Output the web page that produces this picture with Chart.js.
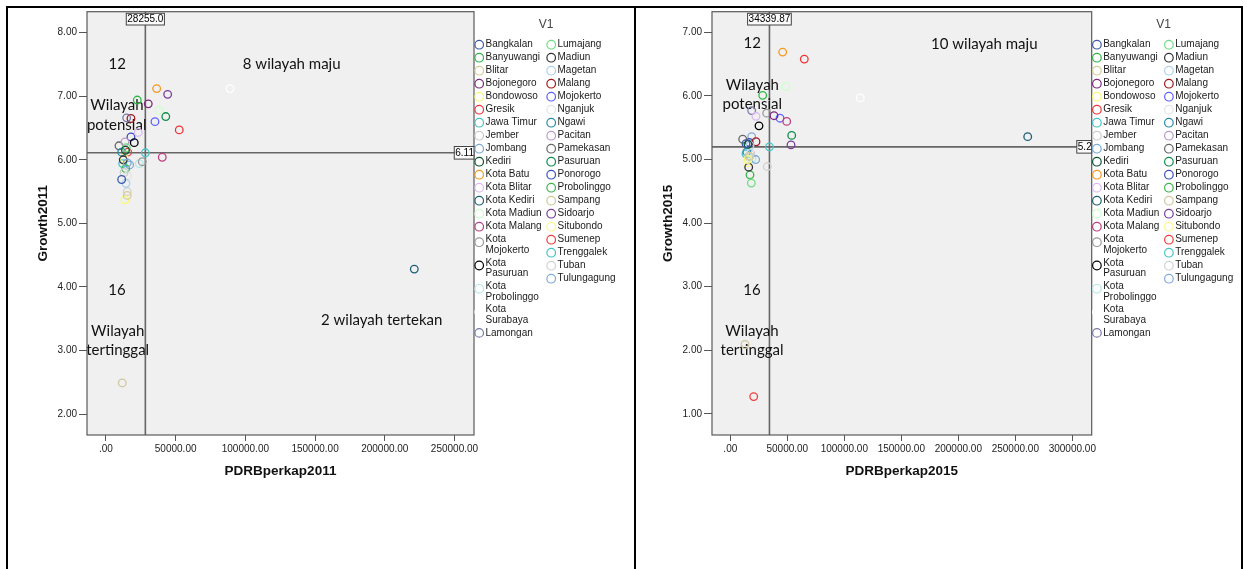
<!DOCTYPE html>
<html>
<head>
<meta charset="utf-8">
<title>PDRB per kapita vs Growth</title>
<script src="https://cdn.jsdelivr.net/npm/chart.js@4.4.1/dist/chart.umd.min.js"></script>
<style>
  html, body { margin: 0; padding: 0; background: #fff; }
  body { width: 1247px; height: 569px; position: relative; overflow: hidden; }
  canvas { position: absolute; top: 0; }
  #chart2011 { left: 0; }
  #chart2015 { left: 636px; }
  .rule { position: absolute; background: #000; z-index: 2; }
</style>
</head>
<body>
<div class="rule" style="left:6px;top:6px;width:1237px;height:2px"></div>
<div class="rule" style="left:6px;top:6px;width:2px;height:563px"></div>
<div class="rule" style="left:634px;top:6px;width:2px;height:563px"></div>
<div class="rule" style="left:1241px;top:6px;width:2px;height:563px"></div>
<canvas id="chart2011" width="633" height="569" style="width:633px;height:569px"></canvas>
<canvas id="chart2015" width="611" height="569" style="width:611px;height:569px"></canvas>
<script>
// regions (V1)
const regions = [
  "Bangkalan", "Banyuwangi", "Blitar", "Bojonegoro", "Bondowoso", "Gresik",
  "Jawa Timur", "Jember", "Jombang", "Kediri", "Kota Batu", "Kota Blitar",
  "Kota Kediri", "Kota Madiun", "Kota Malang", "Kota Mojokerto", "Kota Pasuruan",
  "Kota Probolinggo", "Kota Surabaya", "Lamongan",
  "Lumajang", "Madiun", "Magetan", "Malang", "Mojokerto", "Nganjuk", "Ngawi",
  "Pacitan", "Pamekasan", "Pasuruan", "Ponorogo", "Probolinggo", "Sampang",
  "Sidoarjo", "Situbondo", "Sumenep", "Trenggalek", "Tuban", "Tulungagung"
];

const pdrb2011 = [
  11260, 22450, 15280, 30350, 13630, 52580, 28255, 13000, 15280, 14000, 36370, 23170,
  221170, 38020, 40390, 26040, 20300, 23890, 88950, 14850,
  14560, 12410, 14350, 17930, 35150, 15500, 11260, 13630, 9330, 42900, 17930, 14130,
  11700, 44260, 12910, 15570, 11980, 15280, 17000
];
const growth2011 = [
  5.69, 6.94, 5.44, 6.88, 5.37, 6.47, 6.11, 5.80, 5.95, 6.15, 7.12, 6.43,
  4.28, 6.78, 6.04, 5.97, 6.27, 5.94, 7.12, 6.66,
  6.19, 6.00, 5.63, 6.65, 6.60, 5.75, 6.12, 6.28, 6.22, 6.68, 6.36, 5.86,
  2.49, 7.03, 6.03, 6.12, 5.94, 5.50, 5.92
];

const pdrb2015 = [
  13770, 28420, 17000, 38330, 15500, 64910, 34339.87, 16000, 22280, 15500, 45960, 22540,
  260880, 48860, 49470, 31930, 25180, 19000, 114040, 18770,
  18420, 16140, 17280, 22540, 43600, 17500, 14500, 17890, 10880, 53860, 16670, 17280,
  12900, 53250, 15000, 20530, 13770, 32460, 18770
];
const growth2015 = [
  5.25, 6.01, 5.05, 5.69, 5.00, 6.58, 5.20, 5.05, 5.00, 5.24, 6.69, 5.68,
  5.36, 6.15, 5.60, 5.73, 5.53, 5.02, 5.97, 5.77,
  4.63, 4.88, 5.22, 5.28, 5.65, 5.10, 5.12, 5.09, 5.32, 5.38, 5.27, 4.76,
  2.09, 5.23, 4.95, 1.27, 5.09, 4.89, 5.36
];

// reference lines (Jawa Timur)
const refX2011 = 28255.0, refY2011 = 6.11;
const refX2015 = 34339.87, refY2015 = 5.2;

// tick values and labels
const xTicks2011 = [0, 50000, 100000, 150000, 200000, 250000];
const xTickLabels2011 = [".00", "50000.00", "100000.00", "150000.00", "200000.00", "250000.00"];
const yTicks2011 = [2, 3, 4, 5, 6, 7, 8];
const yTickLabels2011 = ["2.00", "3.00", "4.00", "5.00", "6.00", "7.00", "8.00"];

const xTicks2015 = [0, 50000, 100000, 150000, 200000, 250000, 300000];
const xTickLabels2015 = [".00", "50000.00", "100000.00", "150000.00", "200000.00", "250000.00", "300000.00"];
const yTicks2015 = [1, 2, 3, 4, 5, 6, 7];
const yTickLabels2015 = ["1.00", "2.00", "3.00", "4.00", "5.00", "6.00", "7.00"];

const palette = [
  "#3E58AC", "#2EB848", "#D3CE97", "#7C287D", "#FBF873", "#EF3338", "#48C2C5",
  "#CCCCCC", "#7AAAD5", "#0A562C", "#F8981D", "#DDBAF1", "#1A5F76", "#CCFFCC",
  "#BB3F7F", "#999999", "#000000", "#B6E7E8", "#FFFFFF", "#797AA7",
  "#70DC84", "#333333", "#ACD0EE", "#A21619", "#5D61FF", "#E4E4E4", "#278BAC",
  "#B89BC9", "#666666", "#0C8D49", "#3A4FC0", "#3CB44A", "#CFC79A", "#7A3C9A",
  "#FCF68C", "#F03C3C", "#44C4C4", "#D2D2D2", "#80AADC"
];

Chart.defaults.font.family = '"Liberation Sans", Arial, sans-serif';
Chart.defaults.font.size = 10;
Chart.defaults.color = "#222";

const NOTE_FONT = '15px Lato, "Open Sans", sans-serif';
const LEGEND_FONT = '10px "Liberation Sans", Arial, sans-serif';

const spssLook = {
  id: "spssLook",
  beforeDraw(chart) {
    const { ctx, chartArea: a } = chart;
    ctx.save();
    ctx.fillStyle = "#f0f0f0";
    ctx.fillRect(a.left, a.top, a.right - a.left, a.bottom - a.top);
    ctx.restore();
  },
  beforeDatasetsDraw(chart, args, opts) {
    const { ctx, chartArea: a, scales } = chart;
    const px = scales.x.getPixelForValue(opts.refX);
    const py = scales.y.getPixelForValue(opts.refY);
    ctx.save();
    ctx.strokeStyle = "#666";
    ctx.lineWidth = 1.6;
    ctx.beginPath();
    ctx.moveTo(px, a.top);
    ctx.lineTo(px, a.bottom);
    ctx.moveTo(a.left, py);
    ctx.lineTo(a.right, py);
    ctx.stroke();

    ctx.fillStyle = "#111";
    ctx.font = NOTE_FONT;
    ctx.textAlign = "center";
    ctx.textBaseline = "middle";
    opts.notes.forEach((n) => ctx.fillText(n[0], a.left + n[1], a.top + n[2]));
    ctx.restore();
  },
  afterDatasetsDraw(chart, args, opts) {
    const { ctx, chartArea: a, scales } = chart;
    const px = scales.x.getPixelForValue(opts.refX);
    const py = scales.y.getPixelForValue(opts.refY);
    ctx.save();
    ctx.strokeStyle = "#5a5a5a";
    ctx.lineWidth = 1.2;
    ctx.strokeRect(a.left, a.top, a.right - a.left, a.bottom - a.top);

    ctx.font = LEGEND_FONT;
    ctx.textBaseline = "middle";
    ctx.lineWidth = 1;
    ctx.strokeStyle = "#444";

    // box at top of vertical line
    let tw = ctx.measureText(opts.refXText).width;
    let bw = tw + 2, bh = 11.7;
    let bx = px - bw / 2, by = a.top + 1.6;
    ctx.fillStyle = "#fafafa";
    ctx.fillRect(bx, by, bw, bh);
    ctx.strokeRect(bx, by, bw, bh);
    ctx.fillStyle = "#000";
    ctx.textAlign = "center";
    ctx.fillText(opts.refXText, px, by + bh / 2 + 0.5);

    // box at right end of horizontal line
    tw = ctx.measureText(opts.refYText).width;
    bw = tw + 1; bh = 12.6;
    bx = a.right - bw; by = py - bh / 2;
    ctx.fillStyle = "#fafafa";
    ctx.fillRect(bx, by, bw, bh);
    ctx.strokeRect(bx, by, bw, bh);
    ctx.fillStyle = "#000";
    ctx.textAlign = "right";
    ctx.fillText(opts.refYText, a.right, py + 0.5);
    ctx.restore();
  },
  afterDraw(chart, args, opts) {
    // two-column legend like SPSS
    const { ctx, chartArea: a } = chart;
    const sets = chart.data.datasets;
    ctx.save();
    ctx.font = '12px "Liberation Sans", Arial, sans-serif';
    ctx.fillStyle = "#444";
    ctx.textAlign = "center";
    ctx.textBaseline = "middle";
    ctx.fillText(opts.legendTitle, a.right + 72, 25);

    ctx.font = LEGEND_FONT;
    ctx.textAlign = "left";
    const split = Math.ceil(sets.length / 2);
    [sets.slice(0, split), sets.slice(split)].forEach((col, c) => {
      const cx = a.right + 5.2 + c * 72;
      let y = 44.7;
      col.forEach((ds) => {
        const label = ds.label;
        let lines = [label];
        if (ctx.measureText(label).width > 62 && label.indexOf(" ") > 0) {
          const cut = label.indexOf(" ");
          lines = [label.slice(0, cut), label.slice(cut + 1)];
        }
        const cy = lines.length > 1 ? y + 2.5 : y;
        ctx.strokeStyle = ds.borderColor;
        ctx.lineWidth = 1.2;
        ctx.beginPath();
        ctx.arc(cx, cy, 4.3, 0, Math.PI * 2);
        ctx.stroke();
        ctx.fillStyle = "#1a1a1a";
        lines.forEach((ln, i) => ctx.fillText(ln, cx + 6.3, y + i * 10.7));
        y += lines.length > 1 ? 23.3 : 13;
      });
    });
    ctx.restore();
  }
};

function buildChart(id, cfg) {
  const datasets = regions.map((name, i) => ({
    label: name,
    data: [{ x: cfg.xs[i], y: cfg.ys[i] }],
    borderColor: palette[i],
    backgroundColor: "rgba(0,0,0,0)",
    pointRadius: 3.8,
    pointBorderWidth: 1.3,
  }));

  return new Chart(document.getElementById(id), {
    type: "scatter",
    data: { datasets },
    options: {
      responsive: false,
      animation: false,
      events: [],
      layout: {
        padding: { left: 0, top: 11.7, right: cfg.padRight, bottom: 84 },
      },
      plugins: {
        legend: { display: false },
        tooltip: { enabled: false },
        spssLook: {
          refX: cfg.refX,
          refY: cfg.refY,
          refXText: cfg.refXText,
          refYText: cfg.refYText,
          notes: cfg.notes,
          legendTitle: "V1",
        },
      },
      scales: {
        x: {
          type: "linear",
          min: cfg.xMin,
          max: cfg.xMax,
          afterBuildTicks(s) { s.ticks = cfg.xTicks.map((v) => ({ value: v })); },
          afterFit(s) { s.height = 50; s.paddingLeft = 0; s.paddingRight = 0; },
          ticks: {
            autoSkip: false,
            maxRotation: 0,
            padding: 2,
            color: "#222",
            callback: (v) => cfg.xLabels[cfg.xTicks.indexOf(v)],
          },
          grid: { drawOnChartArea: false, tickLength: 6, color: "#555" },
          border: { display: false },
          title: {
            display: true,
            text: cfg.xTitle,
            font: { size: 13.5, weight: "bold" },
            color: "#111",
            padding: { top: 0, bottom: 6 },
          },
        },
        y: {
          type: "linear",
          min: cfg.yMin,
          max: cfg.yMax,
          afterBuildTicks(s) { s.ticks = cfg.yTicks.map((v) => ({ value: v })); },
          afterFit(s) { s.width = cfg.yWidth; s.paddingTop = 0; s.paddingBottom = 0; },
          ticks: {
            autoSkip: false,
            padding: 2,
            color: "#222",
            callback: (v) => cfg.yLabels[cfg.yTicks.indexOf(v)],
          },
          grid: { drawOnChartArea: false, tickLength: 8, color: "#555" },
          border: { display: false },
          title: {
            display: true,
            text: cfg.yTitle,
            font: { size: 13.5, weight: "bold" },
            color: "#111",
            padding: { top: cfg.yTitlePad, bottom: 0 },
          },
        },
      },
    },
    plugins: [spssLook],
  });
}

buildChart("chart2011", {
  xs: pdrb2011, ys: growth2011,
  xMin: -13600, xMax: 264000, yMin: 1.67, yMax: 8.33,
  xTicks: xTicks2011, xLabels: xTickLabels2011,
  yTicks: yTicks2011, yLabels: yTickLabels2011,
  xTitle: "PDRBperkap2011", yTitle: "Growth2011",
  refX: refX2011, refY: refY2011, refXText: "28255.0", refYText: "6.11",
  yWidth: 87, yTitlePad: 35, padRight: 159,
  notes: [
    ["12", 30.3, 52.3],
    ["Wilayah", 30, 93.6],
    ["potensial", 29.7, 113.6],
    ["8 wilayah maju", 204.7, 52.3],
    ["16", 30, 278.3],
    ["Wilayah", 30.7, 319.3],
    ["tertinggal", 30.7, 338.3],
    ["2 wilayah tertekan", 294.7, 308.3],
  ],
});

buildChart("chart2015", {
  xs: pdrb2015, ys: growth2015,
  xMin: -16050, xMax: 317000, yMin: 0.666, yMax: 7.326,
  xTicks: xTicks2015, xLabels: xTickLabels2015,
  yTicks: yTicks2015, yLabels: yTickLabels2015,
  xTitle: "PDRBperkap2015", yTitle: "Growth2015",
  refX: refX2015, refY: refY2015, refXText: "34339.87", refYText: "5.2",
  yWidth: 76, yTitlePad: 24, padRight: 155.3,
  notes: [
    ["12", 40.3, 31.7],
    ["10 wilayah maju", 272.3, 32],
    ["Wilayah", 40.3, 73.3],
    ["potensial", 40.3, 92.7],
    ["16", 40, 278],
    ["Wilayah", 40, 319],
    ["tertinggal", 40, 338],
  ],
});
</script>
</body>
</html>
